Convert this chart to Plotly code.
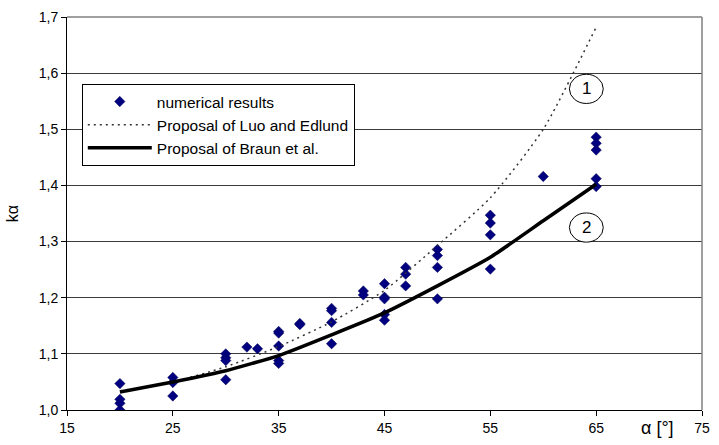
import plotly.graph_objects as go

# Measured k_alpha values for each opening angle alpha [deg]
alpha_pts = [20, 20, 20, 20,
             25, 25, 25,
             30, 30, 30, 30,
             32, 33,
             35, 35, 35, 35, 35,
             37, 37,
             40, 40, 40, 40,
             43, 43,
             45, 45, 45, 45, 45,
             47, 47, 47,
             50, 50, 50, 50,
             55, 55, 55, 55,
             60,
             65, 65, 65, 65, 65]
k_pts = [1.047, 1.019, 1.012, 1.000,
         1.058, 1.049, 1.025,
         1.100, 1.093, 1.088, 1.054,
         1.112, 1.109,
         1.140, 1.137, 1.114, 1.088, 1.083,
         1.154, 1.152,
         1.181, 1.177, 1.156, 1.118,
         1.212, 1.205,
         1.225, 1.201, 1.198, 1.170, 1.160,
         1.254, 1.242, 1.221,
         1.286, 1.275, 1.254, 1.198,
         1.347, 1.333, 1.312, 1.251,
         1.416,
         1.486, 1.475, 1.463, 1.412, 1.398]

# Design proposals evaluated at 5 deg steps
alpha_curve = [20, 25, 30, 35, 40, 45, 50, 55, 60, 65]
k_luo = [1.034, 1.050, 1.077, 1.113, 1.157, 1.213, 1.293, 1.378, 1.500, 1.682]
k_braun = [1.032, 1.050, 1.070, 1.097, 1.134, 1.173, 1.221, 1.272, 1.337, 1.402]

x_ticks = [15, 25, 35, 45, 55, 65, 75]
y_ticks = [1.0, 1.1, 1.2, 1.3, 1.4, 1.5, 1.6, 1.7]

FONT = "Liberation Sans, Arial, sans-serif"

fig = go.Figure()
fig.add_trace(go.Scatter(
    x=alpha_pts, y=k_pts, mode="markers", name="numerical results",
    legendgroup="a",
    marker=dict(symbol="diamond", size=8, color="#000080",
                line=dict(color="#000050", width=0.5)),
))
fig.add_trace(go.Scatter(
    x=alpha_curve, y=k_luo, mode="lines", name="Proposal of Luo and Edlund",
    legendgroup="b",
    line=dict(color="#333333", width=1.5, dash="2px,4px", shape="spline",
              smoothing=0.6),
))
fig.add_trace(go.Scatter(
    x=alpha_curve, y=k_braun, mode="lines", name="Proposal of Braun et al.",
    legendgroup="c",
    line=dict(color="black", width=3.5, shape="spline", smoothing=0.5),
))

# Curve labels: circled numbers
labels = [("1", 64.07, 1.572), ("2", 64.07, 1.325)]
for txt, ax, ay in labels:
    fig.add_shape(type="circle", xref="x", yref="y",
                  x0=ax - 1.6, x1=ax + 1.6, y0=ay - 0.026, y1=ay + 0.026,
                  line=dict(color="black", width=1), fillcolor="white",
                  layer="above")
    fig.add_annotation(x=ax, y=ay, text=txt, showarrow=False,
                       font=dict(family=FONT, size=17, color="black"))

# Axis title for alpha placed between the last two tick labels
fig.add_annotation(x=0.930, y=-0.015, xref="paper", yref="paper",
                   text="α [°]", showarrow=False, xanchor="center",
                   yanchor="top",
                   font=dict(family=FONT, size=18, color="black"))

fig.update_layout(
    width=719, height=445,
    margin=dict(l=67, r=9, t=16, b=30),
    paper_bgcolor="white", plot_bgcolor="white",
    separators=",.",
    font=dict(family=FONT, size=14, color="black"),
    showlegend=True,
    legend=dict(
        x=0.0233, y=0.8296, xanchor="left", yanchor="top",
        bgcolor="white", bordercolor="black", borderwidth=1,
        font=dict(family=FONT, size=15.5, color="black"),
        tracegroupgap=0, itemwidth=64,
    ),
    xaxis=dict(
        range=[15, 75], tickvals=x_ticks, ticks="outside", ticklen=5,
        tickcolor="black", showline=True, linecolor="black", linewidth=1,
        mirror=False, showgrid=False, zeroline=False,
        tickfont=dict(family=FONT, size=14),
    ),
    yaxis=dict(
        range=[1.0, 1.7], tickvals=y_ticks, tickformat=".1f",
        ticks="outside", ticklen=5, tickcolor="black",
        showline=True, linecolor="black", linewidth=1,
        showgrid=True, gridcolor="#3a3a3a", gridwidth=1, zeroline=False,
        tickfont=dict(family=FONT, size=14),
        title=dict(text="kα", font=dict(family=FONT, size=16), standoff=16),
    ),
)

# Grey frame on the top and right edges of the plot area
fig.add_shape(type="line", xref="paper", yref="paper", x0=0, x1=1, y0=1, y1=1,
              line=dict(color="#808080", width=1.5))
fig.add_shape(type="line", xref="paper", yref="paper", x0=1, x1=1, y0=0, y1=1,
              line=dict(color="#808080", width=1.5))

fig.write_html("out.html")
